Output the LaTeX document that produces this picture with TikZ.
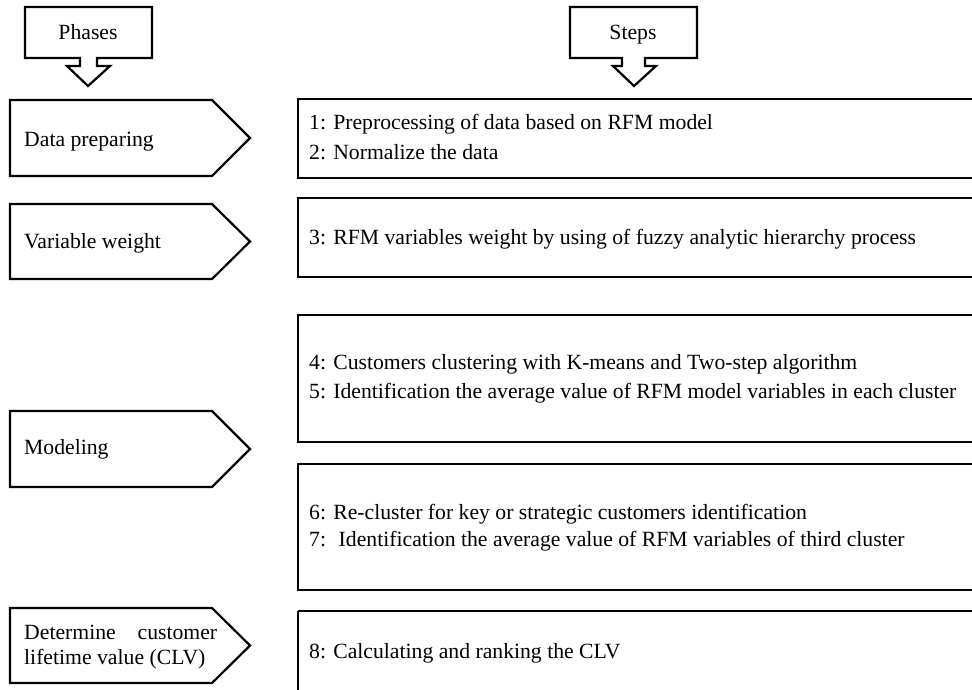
\documentclass[tikz,border=0pt]{standalone}
\usepackage{fontspec}
\setmainfont{Liberation Serif}
\begin{document}
\begin{tikzpicture}[x=1pt,y=-1pt,
  shp/.style={draw=black,line width=2.2pt,line join=miter},
  txt/.style={anchor=base west,inner sep=0pt,font=\fontsize{21.7}{24}\selectfont},
  ctxt/.style={anchor=base,inner sep=0pt,font=\fontsize{21.7}{24}\selectfont}]
\useasboundingbox (0,0) rectangle (972,689);
% callouts
\draw[shp] (25,7) -- (152,7) -- (152,58) -- (97,58) -- (97,66) -- (110,66) -- (88,86) -- (67,66) -- (80,66) -- (80,58) -- (25,58) -- cycle;
\node[ctxt] (phases) at (88,39) {Phases};
\draw[shp] (570,7) -- (697,7) -- (697,58) -- (645,58) -- (645,66) -- (656,66) -- (634,86) -- (613,66) -- (622,66) -- (622,58) -- (570,58) -- cycle;
\node[ctxt] (steps) at (633,39) {Steps};
% phase pentagons
\foreach \t/\b in {100/176,204/279,411/487,608/683}{
  \draw[shp] (10,\t) -- (212,\t) -- (250,{(\t+\b)/2}) -- (212,\b) -- (10,\b) -- cycle;
}
\node[txt] (p1) at (24,146) {Data preparing};
\node[txt] (p2) at (24,248) {Variable weight};
\node[txt] (p3) at (24,454) {Modeling};
\node[txt] (p4a) at (24,639) {\makebox[193pt][s]{Determine customer}};
\node[txt] (p4b) at (24,664) {lifetime value (CLV)};
% step boxes
\draw[shp] (298,99) rectangle (980,178);
\draw[shp] (298,198) rectangle (980,277);
\draw[shp] (298,315) rectangle (980,442);
\draw[shp] (298,464) rectangle (980,590);
\draw[shp] (298,611) -- (980,611) (298,611) -- (298,695);
\node[txt] (s1) at (309,129) {1: Preprocessing of data based on RFM model};
\node[txt] (s2) at (309,159) {2: Normalize the data};
\node[txt] (s3) at (309,244) {3: RFM variables weight by using of fuzzy analytic hierarchy process};
\node[txt] (s4) at (309,369) {4: Customers clustering with K-means and Two-step algorithm};
\node[txt] (s5) at (309,398) {5: Identification the average value of RFM model variables in each cluster};
\node[txt] (s6) at (309,519) {6: Re-cluster for key or strategic customers identification};
\node[txt] (s7) at (309,546) {7: \ Identification the average value of RFM variables of third cluster};
\node[txt] (s8) at (309,658) {8: Calculating and ranking the CLV};
\end{tikzpicture}
\end{document}
